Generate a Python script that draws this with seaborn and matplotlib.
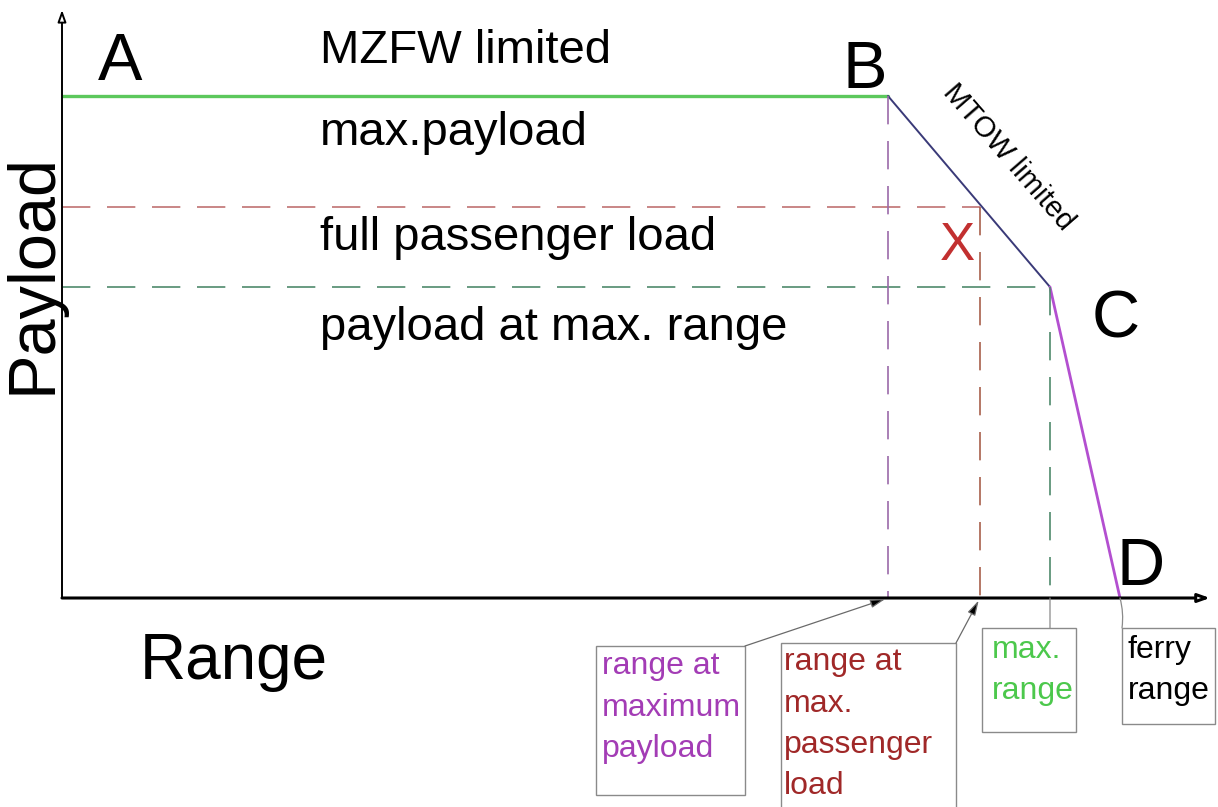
"""
Payload-range diagram (MZFW / MTOW / fuel limited segments).
"""
import numpy as np
import pandas as pd
import matplotlib
matplotlib.use("Agg")
import matplotlib.pyplot as plt
from matplotlib.patches import Rectangle
import seaborn as sns

# ---------------------------------------------------------------------------
# Data (range / payload in arbitrary diagram units)
# ---------------------------------------------------------------------------
point_names   = ['A', 'B', 'X', 'C', 'D']
range_pts     = [0.0, 8.26, 9.18, 9.88, 10.58]
payload_pts   = [5.02, 5.02, 3.91, 3.11, 0.0]

segment_names   = ['A-B', 'B-C', 'C-D']
segment_ends    = [('A', 'B'), ('B', 'C'), ('C', 'D')]
segment_colors  = ['#5cc85c', '#3a3a78', '#b34fd0']
segment_widths  = [2.4, 1.4, 2.0]

level_labels = ['MZFW limited', 'max.payload', 'full passenger load', 'payload at max. range']
box_labels   = ['range at\nmaximum\npayload', 'range at\nmax.\npassenger\nload',
                'max.\nrange', 'ferry\nrange']
box_points   = ['B', 'X', 'C', 'D']
box_colors   = ['#a33cb5', '#a02828', '#4cc84c', '#000000']

pts = dict(zip(point_names, zip(range_pts, payload_pts)))

sns.set_style("white")
plt.rcParams['font.family'] = ['Liberation Sans', 'DejaVu Sans']
plt.rcParams['text.color'] = 'black'

fig = plt.figure(figsize=(12.18, 8.07), dpi=100)
ax = fig.add_axes([62 / 1218, 209 / 807, 1156 / 1218, 598 / 807])
ax.set_xlim(0, 11.56)
ax.set_ylim(0, 5.98)
ax.axis('off')

# --- envelope ---
rows = []
for name, (p0, p1) in zip(segment_names, segment_ends):
    for p in (p0, p1):
        rows.append({'segment': name, 'range': pts[p][0], 'payload': pts[p][1]})
env = pd.DataFrame(rows)
for name, col, lw in zip(segment_names, segment_colors, segment_widths):
    sns.lineplot(data=env[env['segment'] == name], x='range', y='payload',
                 color=col, lw=lw, sort=False, estimator=None, ax=ax, legend=False)

# --- dashed guide lines ---
dash = (0, (17, 10))
guides = [
    ('X', 'h', '#c07272'),
    ('C', 'h', '#4f8a6c'),
    ('B', 'v', '#9b6aa9'),
    ('X', 'v', '#a8604c'),
    ('C', 'v', '#4f8a6c'),
]
for p, kind, col in guides:
    x, y = pts[p]
    if kind == 'h':
        g = pd.DataFrame({'range': [0, x], 'payload': [y, y]})
    else:
        g = pd.DataFrame({'range': [x, x], 'payload': [y, 0]})
    sns.lineplot(data=g, x='range', y='payload', color=col, lw=1.2,
                 linestyle=dash, dashes=False, sort=False, estimator=None, ax=ax)

# --- axes arrows ---
ax.annotate('', xy=(0, 5.88), xytext=(0, 0), annotation_clip=False,
            arrowprops=dict(arrowstyle='-|>,head_length=0.7,head_width=0.25',
                            fc='white', ec='black', lw=1.4, shrinkA=0, shrinkB=0))
ax.annotate('', xy=(11.48, 0), xytext=(0, 0), annotation_clip=False,
            arrowprops=dict(arrowstyle='-|>,head_length=0.7,head_width=0.25',
                            fc='white', ec='black', lw=2.2, shrinkA=0, shrinkB=0))

# --- point letters ---
letter_pos = {'A': (0.36, 5.18), 'B': (7.81, 5.10), 'C': (10.30, 2.61), 'D': (10.55, 0.13)}
for k, (x, y) in letter_pos.items():
    ax.text(x, y, k, fontsize=48, ha='left', va='baseline')
ax.text(8.78, 3.38, 'X', fontsize=38, color='#c23030', ha='left', va='baseline')

# --- level labels ---
level_y = [5.35, 4.53, 3.48, 2.58]
for lab, y in zip(level_labels, level_y):
    ax.text(2.58, y, lab, fontsize=34, ha='left', va='baseline')

ax.text(9.46, 4.41, 'MTOW limited', fontsize=21, rotation=-49,
        rotation_mode='anchor', ha='center', va='center')

# axis titles
ax.text(-0.29, 3.24, 'Payload', fontsize=48, rotation=90, ha='center', va='center')
ax.text(0.78, -0.81, 'Range', fontsize=46, ha='left', va='baseline')

# --- callout boxes below the axis ---
box_rects = [(5.34, -1.97, 1.49, 1.49), (7.19, -2.30, 1.75, 1.85),
             (9.20, -1.34, 0.94, 1.04), (10.60, -1.26, 0.93, 0.96)]
text_pos  = [(5.40, -0.53), (7.22, -0.49), (9.30, -0.37), (10.66, -0.37)]
for lab, col, (bx, by, bw, bh), (tx, ty) in zip(box_labels, box_colors, box_rects, text_pos):
    ax.add_patch(Rectangle((bx, by), bw, bh, fill=False, ec='#8a8a8a', lw=1.0,
                           clip_on=False))
    ax.text(tx, ty, lab, fontsize=23, color=col, ha='left', va='top',
            linespacing=1.5, clip_on=False)

# pointers from boxes to the range axis
arrow_kw = dict(arrowstyle='-|>,head_length=0.9,head_width=0.25',
                fc='black', ec='#6a6a6a', lw=0.9, shrinkA=0, shrinkB=2)
ax.annotate('', xy=(pts['B'][0], 0), xytext=(6.83, -0.48),
            annotation_clip=False, arrowprops=arrow_kw)
ax.annotate('', xy=(pts['X'][0], 0), xytext=(8.94, -0.45),
            annotation_clip=False, arrowprops=arrow_kw)
ax.annotate('', xy=(pts['C'][0], 0), xytext=(pts['C'][0], -0.30),
            annotation_clip=False,
            arrowprops=dict(arrowstyle='-', ec='#8a8a8a', lw=0.9, shrinkA=0, shrinkB=0))
ax.annotate('', xy=(pts['D'][0], 0), xytext=(10.60, -0.30),
            annotation_clip=False,
            arrowprops=dict(arrowstyle='-', ec='#8a8a8a', lw=0.9, shrinkA=0, shrinkB=0,
                            connectionstyle='arc3,rad=0.1'))

fig.savefig('out.png', dpi=100)
